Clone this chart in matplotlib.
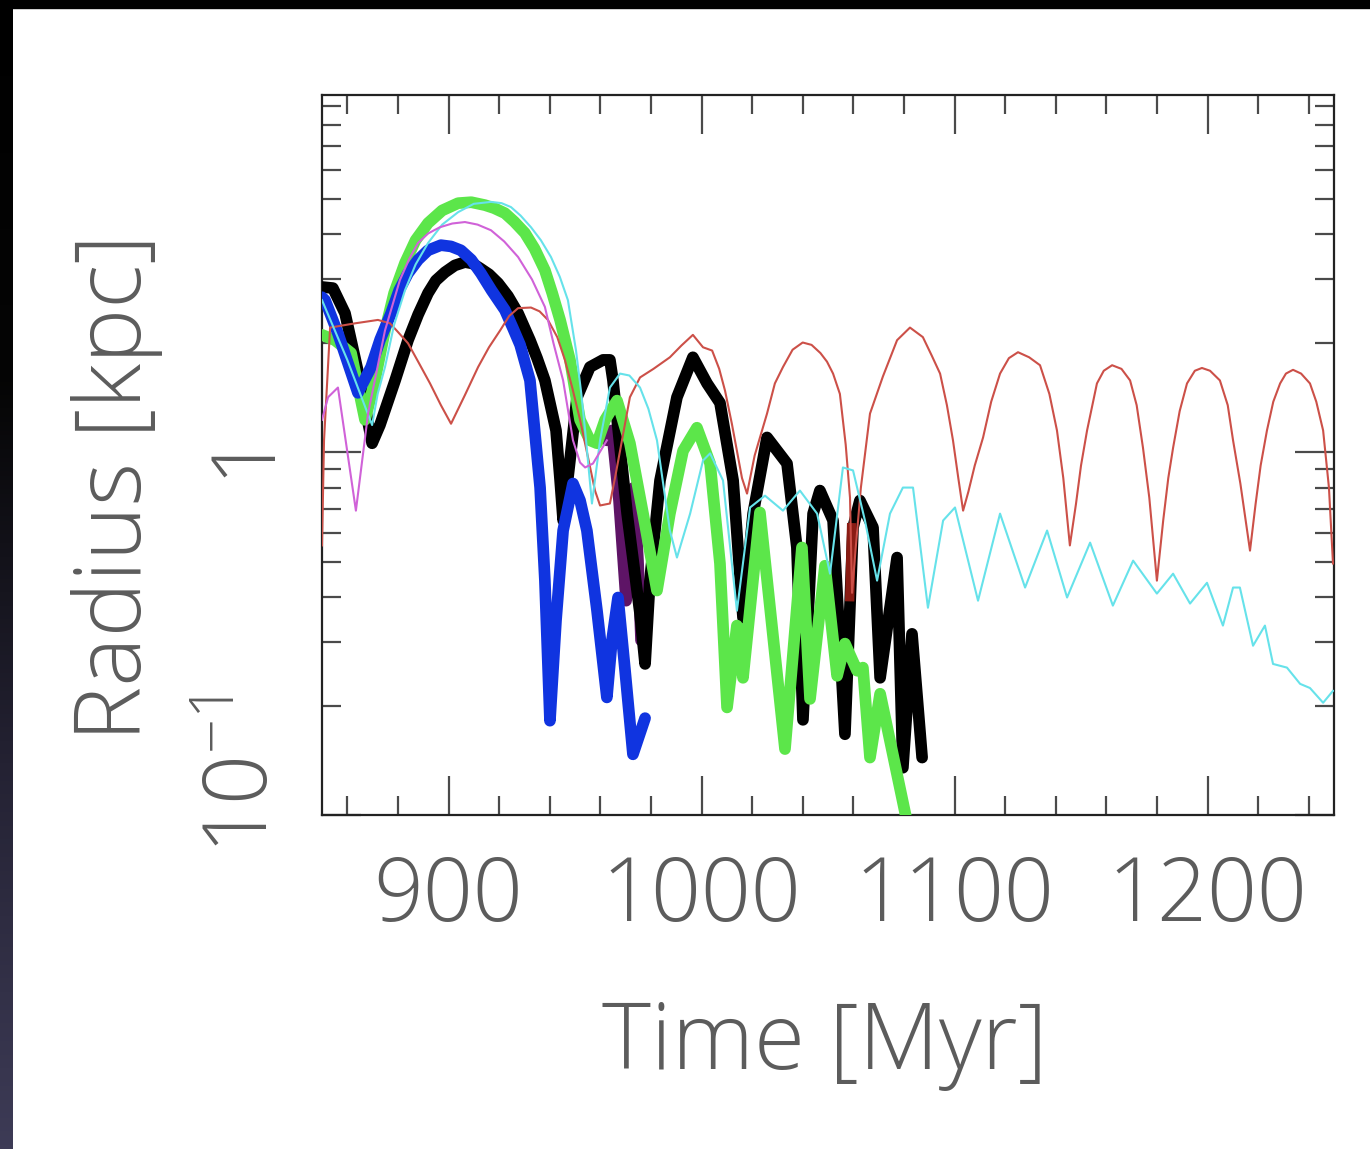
import numpy as np
import matplotlib
matplotlib.use("Agg")
import matplotlib.pyplot as plt
from matplotlib.ticker import MultipleLocator, LogLocator, FixedLocator, FixedFormatter, NullFormatter
from matplotlib.colors import LinearSegmentedColormap
import matplotlib.transforms as mtransforms

plt.rcParams['mathtext.default'] = 'regular'

# ---------------- data (Time [Myr], Radius [kpc]) ----------------
red_t = [850, 850.8, 853.2, 863.0, 872.1, 876.9, 880.0, 884.0, 888.0, 892.7, 897.0, 901.0, 906.5,
         911.7, 916.0, 920.4, 924.0, 927.5, 932.6, 936.0, 939.3, 943.0, 946.0, 949.0, 952.0, 955.0,
         957.9, 959.9, 963.8, 965.8, 967.8, 971.7, 975.7, 981.0, 987.5, 992.0, 996.6, 1000.6,
         1004.2, 1007.0, 1009.3, 1012.0, 1014.0, 1016.0, 1018.0, 1021.0, 1025.9, 1029.0, 1032.2,
         1036.0, 1040.0, 1043.5, 1047.0, 1049.6, 1052.0, 1054.7, 1057.0, 1058.7, 1059.5,
         1061.0, 1063.0, 1066.6, 1071.7, 1077.3, 1082.4, 1087.5, 1091.0, 1094.3, 1097.0, 1099.4,
         1101.5, 1103.4, 1105.5, 1108.0, 1111.3, 1114.5, 1118.0, 1121.5, 1125.1, 1129.5, 1133.8,
         1137.5, 1140.5, 1143.0, 1145.6, 1148.0, 1150.0, 1152.4, 1156.3, 1159.0, 1162.3, 1166.0,
         1169.4, 1172.0, 1174.5, 1177.0, 1180.0, 1182.5, 1184.5, 1186.4, 1189.0, 1191.9, 1195.0,
         1197.8, 1201.0, 1204.9, 1208.0, 1210.1, 1213.0, 1216.8, 1219.0, 1221.0, 1223.5, 1226.0,
         1228.7, 1231.0, 1233.8, 1237.0, 1240.5, 1243.0, 1245.7, 1248.0, 1249.6]
red_r = [0.554, 1.08, 2.21, 2.27, 2.32, 2.27, 2.15, 2.0, 1.78, 1.55, 1.35, 1.20, 1.44,
         1.72, 1.95, 2.17, 2.38, 2.50, 2.51, 2.45, 2.32, 2.08, 1.80, 1.50, 1.23, 0.98,
         0.785, 0.714, 0.723, 0.85, 1.01, 1.42, 1.61, 1.70, 1.83, 1.97, 2.11, 1.95,
         1.91, 1.70, 1.48, 1.20, 1.01, 0.85, 0.770, 0.98, 1.28, 1.55, 1.72,
         1.92, 2.01, 1.98, 1.88, 1.78, 1.65, 1.45, 1.05, 0.75, 0.41,
         0.55, 0.80, 1.28, 1.62, 2.04, 2.21, 2.08, 1.85, 1.65, 1.35, 1.08,
         0.85, 0.691, 0.78, 0.92, 1.10, 1.38, 1.65, 1.82, 1.89, 1.83, 1.74,
         1.45, 1.15, 0.85, 0.554, 0.72, 0.92, 1.15, 1.55, 1.68, 1.74, 1.70,
         1.58, 1.35, 1.03, 0.75, 0.443, 0.65, 0.85, 1.03, 1.30, 1.55, 1.68,
         1.71, 1.68, 1.58, 1.35, 1.08, 0.82, 0.536, 0.72, 0.92, 1.15, 1.38,
         1.55, 1.65, 1.69, 1.65, 1.55, 1.38, 1.15, 0.80, 0.494]

cyan_t = [850, 860, 869.8, 872.0, 874.9, 878.5, 882.8, 887.0, 891.9, 897.5, 903.8, 910.0, 916.8,
          921.0, 924.7, 928.5, 932.6, 936.5, 940.5, 944.0, 947.2, 950.4, 952.5, 954.0, 956.7,
          959.9, 963.8, 967.8, 971.5, 975.7, 979.0, 982.4, 987.5, 990.3, 995.5, 1000.6, 1003.4,
          1008.5, 1014.0, 1019.2, 1025.1, 1032.2, 1038.9, 1045.7, 1050.8, 1055.9, 1059.9, 1064.6,
          1069.4, 1074.5, 1079.6, 1083.6, 1089.5, 1095.5, 1100.2, 1109.3, 1118.0, 1127.9, 1136.6,
          1144.5, 1153.6, 1162.6, 1170.6, 1180.0, 1186.4, 1193.1, 1199.8, 1206.1, 1210.1, 1212.8,
          1218.0, 1222.7, 1225.9, 1231.4, 1236.6, 1240.5, 1245.7, 1249.6]
cyan_r = [2.63, 1.80, 1.19, 1.45, 1.72, 2.25, 2.80, 3.30, 3.78, 4.25, 4.60, 4.85, 4.91,
          4.87, 4.75, 4.50, 4.18, 3.85, 3.46, 3.05, 2.63, 1.91, 1.45, 1.15, 0.723,
          1.08, 1.51, 1.65, 1.63, 1.51, 1.32, 1.08, 0.609, 0.513, 0.678, 0.95, 0.994,
          0.837, 0.366, 0.705, 0.76, 0.691, 0.785, 0.678, 0.463, 0.909, 0.892, 0.649,
          0.443, 0.678, 0.80, 0.80, 0.373, 0.649, 0.705, 0.390, 0.678, 0.424, 0.609,
          0.398, 0.564, 0.378, 0.503, 0.408, 0.463, 0.383, 0.437, 0.333, 0.424, 0.424,
          0.293, 0.333, 0.261, 0.255, 0.230, 0.224, 0.204, 0.220]

magenta_t = [850, 852.4, 856.3, 863.4, 868.2, 874.9, 880.8, 884.5, 887.9, 892.0, 896.6, 901.5,
             906.5, 911.5, 916.8, 922.0, 927.5, 933.0, 938.1, 941.5, 945.3, 949.2, 952.0, 954.0,
             957.1, 962.6]
magenta_r = [1.23, 1.42, 1.51, 0.691, 1.28, 2.17, 2.99, 3.42, 3.78, 4.02, 4.18, 4.28,
             4.32, 4.25, 4.10, 3.82, 3.46, 3.00, 2.52, 2.00, 1.58, 1.08, 0.938, 0.909,
             0.932, 1.08]

purple_t = [962.6, 964.6, 967.4, 970.2, 971.7, 973.3, 974.9, 976.1]
purple_r = [1.08, 1.15, 0.737, 0.390, 0.571, 0.80, 0.503, 0.303]

black_t = [850, 854.3, 859.1, 865.0, 869.8, 872.9, 878.9, 884.0, 888.0, 891.9, 895.0, 898.6, 902.5,
           906.5, 909.5, 912.5, 916.0, 919.6, 923.5, 927.5, 932.2, 935.0, 938.1, 942.5, 944.1,
           945.3, 948.0, 950.8, 955.9, 961.1, 963.8, 965.0, 970.6, 975.7, 977.7, 979.6, 983.6,
           990.3, 996.6, 1002.2, 1007.3, 1012.5, 1016.4, 1020.4, 1025.9, 1033.8, 1037.7, 1040.1,
           1044.1, 1046.8, 1052.0, 1056.7, 1059.9, 1062.6, 1067.8, 1070.6, 1077.3, 1079.6,
           1083.2, 1087.2]
black_r = [2.86, 2.84, 2.42, 1.58, 1.06, 1.19, 1.58, 2.04, 2.40, 2.75, 2.98, 3.14, 3.28,
           3.35, 3.32, 3.22, 3.10, 2.93, 2.70, 2.42, 2.04, 1.82, 1.58, 1.15, 0.84,
           0.65, 0.95, 1.42, 1.72, 1.80, 1.80, 1.58, 0.678, 0.359, 0.261, 0.443, 0.837,
           1.42, 1.83, 1.55, 1.37, 0.837, 0.350, 0.678, 1.10, 0.932, 0.547, 0.183,
           0.678, 0.785, 0.649, 0.167, 0.621, 0.737, 0.621, 0.239, 0.513, 0.135,
           0.316, 0.144]

darkred_t = [1058.6, 1059.3]
darkred_r = [0.40, 0.62]

green_t = [850, 855.1, 861.5, 867.0, 870.9, 874.9, 878.5, 882.8, 887.0, 891.9, 897.5, 903.8, 909.0,
           914.4, 918.0, 922.3, 926.0, 930.2, 934.0, 938.1, 941.0, 944.1, 948.0, 952.0, 955.9,
           958.7, 961.9, 966.6, 971.7, 976.9, 982.4, 987.5, 992.7, 998.2, 1003.4, 1007.3, 1010.1,
           1014.0, 1016.4, 1023.1, 1033.0, 1039.7, 1042.9, 1048.8, 1053.6, 1056.7, 1061.5,
           1063.8, 1066.6, 1070.6, 1081.2]
green_r = [2.11, 2.04, 1.88, 1.23, 1.58, 2.17, 2.75, 3.33, 3.85, 4.29, 4.65, 4.87, 4.90,
           4.81, 4.72, 4.57, 4.33, 4.03, 3.65, 3.18, 2.75, 2.32, 1.80, 1.23, 1.08,
           1.06, 1.23, 1.39, 1.06, 0.678, 0.416, 0.678, 1.01, 1.17, 0.932, 0.494, 0.198,
           0.333, 0.239, 0.683, 0.152, 0.547, 0.209, 0.487, 0.242, 0.297, 0.250,
           0.255, 0.144, 0.216, 0.096]

blue_t = [850, 851.2, 856.3, 864.2, 869.4, 873.0, 877.3, 880.5, 884.0, 888.0, 891.9, 897.0, 901.0,
          904.9, 909.0, 912.8, 917.0, 922.3, 925.5, 928.3, 932.2, 936.2, 938.1, 940.1, 942.5,
          945.3, 949.2, 952.0, 954.7, 958.7, 962.6, 964.6, 967.0, 969.8, 972.9, 977.7]
blue_r = [2.68, 2.63, 2.13, 1.46, 1.72, 2.05, 2.42, 2.80, 3.12, 3.40, 3.61, 3.73, 3.70,
          3.61, 3.40, 3.12, 2.80, 2.47, 2.20, 1.98, 1.58, 0.80, 0.443, 0.182, 0.344,
          0.609, 0.821, 0.737, 0.609, 0.366, 0.211, 0.303, 0.398, 0.25, 0.147, 0.185]

x_major = [900, 1000, 1100, 1200]
x_labels = ['900', '1000', '1100', '1200']
y_major = [0.1, 1]
y_labels = ['$10^{-1}$', '1']

# ---------------- figure ----------------
W, H = 1370, 1149
fig = plt.figure(figsize=(W / 100, H / 100), dpi=100, facecolor='white')

# slide background strips
bg = fig.add_axes([0, 0, 13 / W, 1])
grad = np.linspace(0, 1, 256).reshape(-1, 1)
cm = LinearSegmentedColormap.from_list('slide', ['#3d3b56', '#242233', '#050505', '#000000'])
bg.imshow(grad, aspect='auto', cmap=cm, origin='lower', extent=[0, 1, 0, 1])
bg.set_axis_off()
fig.patches.append(plt.Rectangle((0, 1 - 8 / H), 1, 8 / H, transform=fig.transFigure,
                                 color='black', zorder=5))

ax = fig.add_axes([322 / W, 1 - 815 / H, 1012 / W, 720 / H])
ax.set_yscale('log')

thick = 8.4
thin = 1.5
kw = dict(solid_joinstyle='round', solid_capstyle='round')
ax.plot(purple_t, purple_r, color='#5e1466', lw=thick, zorder=2, **kw)
ax.plot(black_t, black_r, color='black', lw=thick, zorder=3, **kw)
ax.plot(darkred_t, darkred_r, color='#8a1c14', lw=thick * 0.8, zorder=3.5)
ax.plot(green_t, green_r, color='#5ce64a', lw=thick, zorder=4, **kw)
ax.plot(blue_t, blue_r, color='#1034e0', lw=thick, zorder=5, **kw)
ax.plot(red_t, red_r, color='#cc5048', lw=thin, zorder=6)
ax.plot(cyan_t, cyan_r, color='#66e2ea', lw=thin, zorder=6)
ax.plot(magenta_t, magenta_r, color='#d062d8', lw=thin, zorder=6)

ax.set_xlim(850, 1250)
ax.set_ylim(0.1, 9.68)

ax.xaxis.set_major_locator(FixedLocator(x_major))
ax.xaxis.set_major_formatter(FixedFormatter(x_labels))
ax.xaxis.set_minor_locator(MultipleLocator(20))
ax.yaxis.set_major_locator(FixedLocator(y_major))
ax.yaxis.set_major_formatter(FixedFormatter(y_labels))
ax.yaxis.set_minor_locator(LogLocator(base=10, subs=np.arange(2, 10)))
ax.yaxis.set_minor_formatter(NullFormatter())

for s in ax.spines.values():
    s.set_linewidth(1.6)
    s.set_color('#222222')

tick_col = '#4a4a4a'
ax.tick_params(which='major', direction='in', length=28, width=1.6, color=tick_col,
               top=True, right=True)
ax.tick_params(which='minor', direction='in', length=14, width=1.6, color=tick_col,
               top=True, right=True)

fam = ['Open Sans', 'DejaVu Sans']
wt = 'light'
lab_col = '#5c5c5c'
fs_tick = 63
fs_lab = 67
ax.tick_params(axis='x', which='major', pad=28, labelsize=fs_tick, labelcolor=lab_col)
ax.tick_params(axis='y', which='major', pad=24, labelsize=fs_tick, labelcolor=lab_col)
for lb in ax.get_xticklabels() + ax.get_yticklabels():
    lb.set_fontfamily(fam)
    lb.set_fontweight(wt)
for lb in ax.get_yticklabels():
    lb.set_rotation(90)
    lb.set_va('center')
    if '10' in lb.get_text():
        lb.set_transform(lb.get_transform() +
                         mtransforms.ScaledTranslation(0, 40 / 100, fig.dpi_scale_trans))

ax.set_xlabel('Time [Myr]', fontsize=fs_lab, color=lab_col, family=fam, fontweight=wt)
ax.set_ylabel('Radius [kpc]', fontsize=fs_lab, color=lab_col, family=fam, fontweight=wt)
ax.xaxis.set_label_coords((825 - 322) / 1012, (815 - 1045) / 720)
ax.xaxis.label.set_va('center')
ax.yaxis.set_label_coords((117 - 322) / 1012, (815 - 487) / 720)
ax.yaxis.label.set_va('center')

fig.savefig('out.png', dpi=100, facecolor='white')
